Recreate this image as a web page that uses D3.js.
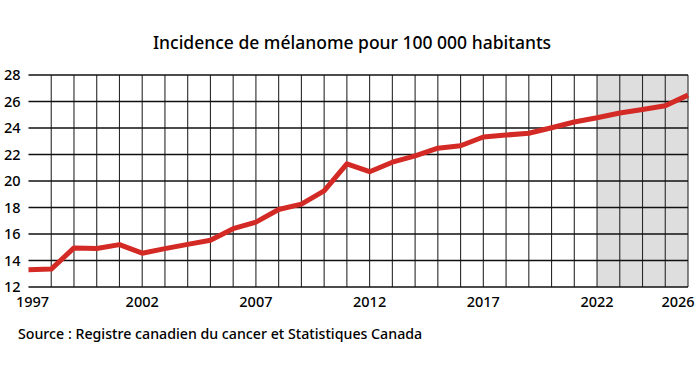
<!DOCTYPE html>
<html>
<head>
<meta charset="utf-8">
<script src="https://cdn.jsdelivr.net/npm/d3@7"></script>
<style>
  body { margin: 0; background: #fff; }
  text { font-family: "Noto Sans", "Open Sans", sans-serif; fill: #000; font-weight: 500; }
</style>
</head>
<body>
<script>
// Incidence du mélanome, taux pour 100 000
const years = [1997, 1998, 1999, 2000, 2001, 2002, 2003, 2004, 2005, 2006,
  2007, 2008, 2009, 2010, 2011, 2012, 2013, 2014, 2015, 2016,
  2017, 2018, 2019, 2020, 2021, 2022, 2023, 2024, 2025, 2026];
const rates = [13.3, 13.35, 14.95, 14.9, 15.2, 14.55, 14.9, 15.22, 15.53, 16.4,
  16.9, 17.85, 18.25, 19.25, 21.3, 20.7, 21.42, 21.9, 22.48, 22.66,
  23.32, 23.47, 23.6, 24.02, 24.45, 24.77, 25.13, 25.4, 25.68, 26.48];
const yTicks = [12, 14, 16, 18, 20, 22, 24, 26, 28];
const xTicks = [1997, 2002, 2007, 2012, 2017, 2022, 2026];
const projected = [2022, 2026];   // zone grisée = projections

const title = 'Incidence de mélanome pour 100 000 habitants';
const source = 'Source : Registre canadien du cancer et Statistiques Canada';

const width = 700, height = 365;
const margin = {top: 75, right: 12, bottom: 78, left: 28.5};

const svg = d3.select('body').append('svg')
  .attr('width', width)
  .attr('height', height);

const x = d3.scaleLinear()
  .domain([1997, 2026])
  .range([margin.left, width - margin.right]);

const y = d3.scaleLinear()
  .domain([12, 28])
  .range([height - margin.bottom, margin.top]);

// shaded projection area
svg.append('rect')
  .attr('x', x(projected[0]))
  .attr('y', y(28))
  .attr('width', x(projected[1]) - x(projected[0]))
  .attr('height', y(12) - y(28))
  .attr('fill', '#dedede');

// vertical grid, one line per year
svg.append('g')
  .selectAll('line')
  .data(years.slice(1))
  .enter().append('line')
  .attr('x1', d => x(d)).attr('x2', d => x(d))
  .attr('y1', y(28)).attr('y2', y(12))
  .attr('stroke', '#2a2a2a')
  .attr('stroke-width', 1.1);

// horizontal grid
svg.append('g')
  .selectAll('line')
  .data(yTicks)
  .enter().append('line')
  .attr('x1', x(1997)).attr('x2', x(2026))
  .attr('y1', d => y(d)).attr('y2', d => y(d))
  .attr('stroke', '#111')
  .attr('stroke-width', 1.5);

// y labels
svg.append('g')
  .selectAll('text')
  .data(yTicks)
  .enter().append('text')
  .attr('x', 4)
  .attr('y', d => y(d))
  .attr('dy', '0.36em')
  .style('font-size', '14.5px')
  .text(d => d);

// x labels
svg.append('g')
  .selectAll('text')
  .data(xTicks)
  .enter().append('text')
  .attr('x', d => Math.min(x(d) + (d === 1997 ? 4 : 0), width - 22))
  .attr('y', height - margin.bottom + 20)
  .attr('text-anchor', 'middle')
  .style('font-size', '14.5px')
  .text(d => d);

// the line itself
const line = d3.line()
  .x((d, i) => x(years[i]))
  .y(d => y(d));

svg.append('path')
  .datum(rates)
  .attr('d', line)
  .attr('fill', 'none')
  .attr('stroke', '#d42a25')
  .attr('stroke-width', 5)
  .attr('stroke-linejoin', 'round');

svg.append('text')
  .attr('x', 352)
  .attr('y', 49)
  .attr('text-anchor', 'middle')
  .style('font-size', '17.5px')
  .text(title);

svg.append('text')
  .attr('x', 18)
  .attr('y', 339)
  .style('font-size', '14.2px')
  .text(source);
</script>
</body>
</html>
